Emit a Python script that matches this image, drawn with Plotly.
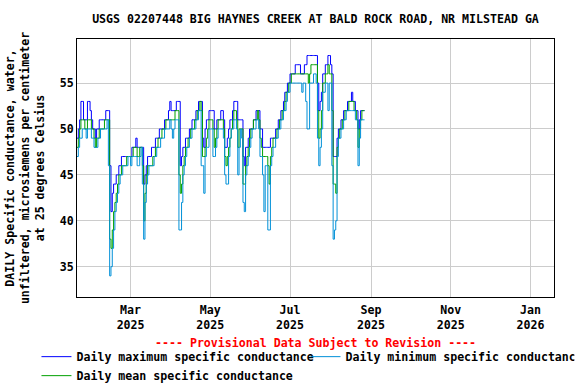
import pandas as pd
import plotly.graph_objects as go

start_date = "2025-01-19"

max_vals = [
    49, 50, 51, 53, 53, 51, 51, 51, 53, 53,
    52, 51, 50, 50, 49, 50, 50, 51, 51, 51,
    51, 51, 52, 52, 52, 46, 41, 43, 44, 44,
    45, 45, 46, 46, 47, 47, 47, 47, 47, 47,
    47, 47, 48, 48, 48, 49, 48, 48, 48, 48,
    48, 44, 45, 46, 47, 47, 47, 48, 48, 48,
    49, 49, 49, 50, 50, 50, 50, 51, 51, 51,
    52, 53, 52, 52, 52, 52, 53, 53, 53, 46,
    47, 48, 48, 49, 49, 49, 50, 50, 51, 51,
    51, 52, 52, 53, 53, 53, 49, 48, 50, 51,
    51, 52, 52, 52, 52, 50, 50, 51, 51, 51,
    52, 52, 51, 48, 48, 49, 50, 51, 51, 52,
    53, 53, 53, 51, 51, 51, 51, 47, 46, 48,
    48, 49, 50, 50, 50, 51, 51, 52, 52, 52,
    50, 50, 48, 48, 48, 48, 48, 48, 49, 49,
    49, 49, 50, 50, 51, 51, 52, 52, 53, 54,
    54, 55, 55, 56, 56, 56, 56, 57, 57, 57,
    57, 56, 56, 56, 57, 57, 58, 58, 58, 58,
    58, 58, 58, 58, 55, 52, 53, 54, 56, 56,
    57, 57, 58, 58, 57, 56, 47, 47, 47, 49,
    50, 50, 51, 51, 52, 52, 52, 53, 53, 53,
    54, 53, 53, 52, 52, 50, 51, 52, 52, 52,
    52,
]

mean_vals = [
    48, 49, 50, 51, 51, 51, 50, 50, 51, 51,
    51, 50, 50, 49, 48, 49, 49, 50, 50, 50,
    50, 51, 51, 51, 51, 38, 37, 39, 41, 42,
    43, 44, 45, 45, 46, 46, 46, 46, 47, 47,
    47, 47, 47, 48, 48, 48, 47, 47, 48, 48,
    46, 40, 43, 45, 46, 46, 46, 46, 47, 47,
    48, 48, 49, 49, 49, 50, 50, 50, 51, 51,
    51, 51, 51, 51, 51, 52, 52, 52, 45, 43,
    44, 46, 47, 48, 48, 49, 49, 50, 50, 50,
    51, 51, 52, 52, 53, 52, 47, 47, 48, 49,
    50, 51, 51, 51, 50, 48, 49, 50, 51, 51,
    51, 51, 50, 47, 46, 47, 48, 49, 50, 51,
    52, 52, 51, 48, 50, 50, 50, 44, 44, 46,
    47, 48, 49, 50, 50, 51, 51, 51, 52, 51,
    49, 48, 47, 47, 47, 47, 46, 44, 47, 48,
    49, 49, 49, 50, 50, 51, 51, 52, 52, 53,
    54, 54, 55, 55, 56, 56, 56, 56, 56, 56,
    56, 56, 56, 56, 56, 56, 56, 55, 56, 57,
    57, 57, 57, 57, 52, 49, 50, 52, 55, 55,
    56, 56, 57, 56, 56, 52, 44, 44, 43, 48,
    49, 50, 50, 51, 51, 52, 52, 52, 53, 53,
    53, 53, 52, 52, 51, 48, 50, 51, 52, 52,
    52,
]

min_vals = [
    47, 48, 49, 49, 50, 50, 50, 49, 50, 50,
    50, 49, 49, 48, 48, 48, 49, 49, 50, 50,
    50, 50, 50, 51, 46, 34, 35, 37, 39, 41,
    42, 43, 44, 45, 45, 46, 46, 46, 46, 47,
    47, 46, 47, 47, 47, 47, 46, 46, 47, 48,
    44, 38, 42, 44, 45, 46, 46, 46, 46, 47,
    47, 48, 48, 48, 49, 49, 49, 50, 50, 50,
    50, 51, 50, 49, 50, 51, 51, 51, 39, 39,
    42, 45, 46, 47, 48, 48, 49, 49, 50, 50,
    50, 51, 51, 52, 52, 46, 46, 43, 47, 48,
    48, 50, 50, 50, 47, 47, 48, 49, 50, 50,
    50, 50, 49, 45, 44, 44, 47, 49, 50, 50,
    51, 51, 50, 45, 48, 50, 49, 42, 41, 45,
    46, 47, 48, 49, 50, 50, 50, 51, 51, 50,
    47, 47, 45, 41, 46, 46, 39, 39, 46, 47,
    48, 48, 49, 49, 50, 50, 51, 51, 52, 52,
    53, 54, 54, 55, 55, 55, 55, 55, 55, 55,
    55, 55, 54, 55, 55, 53, 50, 50, 55, 55,
    55, 56, 56, 55, 49, 46, 48, 50, 54, 54,
    55, 55, 52, 55, 55, 46, 38, 39, 40, 47,
    49, 49, 50, 50, 51, 51, 52, 52, 52, 52,
    52, 52, 52, 51, 51, 46, 49, 51, 51, 51,
    51,
]

series_names = [
    "Daily maximum specific conductance",
    "Daily minimum specific conductance",
    "Daily mean specific conductance",
]
series_colors = ["#0000ff", "#0090d8", "#00a000"]

title_text = "USGS 02207448 BIG HAYNES CREEK AT BALD ROCK ROAD, NR MILSTEAD GA"
y_title = ("DAILY Specific conductance, water,<br>"
           "unfiltered, microsiemens per centimeter<br>"
           "at 25 degrees Celsius")
provisional_text = "---- Provisional Data Subject to Revision ----"

dates = pd.date_range(start_date, periods=len(max_vals), freq="D")

FONT = "DejaVu Sans Mono"
FS = 11.6

fig = go.Figure()
order = [(0, max_vals, 1), (2, mean_vals, 3), (1, min_vals, 2)]
for idx, vals, rank in order:
    fig.add_trace(go.Scatter(
        x=dates, y=vals, mode="lines", line_shape="hv",
        name=series_names[idx], legendrank=rank,
        line=dict(color=series_colors[idx], width=1),
    ))

fig.update_layout(
    width=576, height=384,
    margin=dict(l=77, r=22, t=39, b=87, autoexpand=False),
    paper_bgcolor="white", plot_bgcolor="white",
    font=dict(family=FONT, size=FS, color="black", weight="bold"),
    title=dict(text=title_text, x=0.5, xref="paper", xanchor="center",
               y=1 - 19 / 384, yref="container", yanchor="middle",
               font=dict(family=FONT, size=FS, weight="bold")),
    showlegend=True,
    legend=dict(orientation="h", x=-0.085, xanchor="left", y=-0.175, yanchor="top",
                font=dict(family=FONT, size=FS, weight="bold"),
                entrywidth=224, entrywidthmode="pixels",
                traceorder="normal", tracegroupgap=0),
    xaxis=dict(type="date", range=["2025-01-19", "2026-01-19"],
               tick0="2025-01-01", dtick="M2", tickformat="%b<br>%Y",
               showgrid=True, gridcolor="#cccccc", gridwidth=1,
               showline=True, mirror=True, linecolor="black", linewidth=1,
               ticks="", zeroline=False, automargin=False, ticklabelstandoff=2,
               tickfont=dict(family=FONT, size=FS, weight="bold")),
    yaxis=dict(range=[31.7, 59.8], tick0=0, dtick=5,
               showgrid=True, gridcolor="#cccccc", gridwidth=1,
               showline=True, mirror=True, linecolor="black", linewidth=1,
               ticks="", zeroline=False, automargin=False,
               tickfont=dict(family=FONT, size=FS, weight="bold"),
               title=dict(text=y_title, standoff=12,
                          font=dict(family=FONT, size=FS, weight="bold"))),
    annotations=[dict(text=provisional_text, xref="paper", yref="paper",
                      x=0.5, y=(297 - 343) / 258, xanchor="center", yanchor="middle",
                      showarrow=False,
                      font=dict(family=FONT, size=FS, color="red", weight="bold"))],
)

fig.write_html("out.html",
               config={"displayModeBar": False},
               post_script="document.body.style.margin='0';document.body.style.overflow='hidden';")
